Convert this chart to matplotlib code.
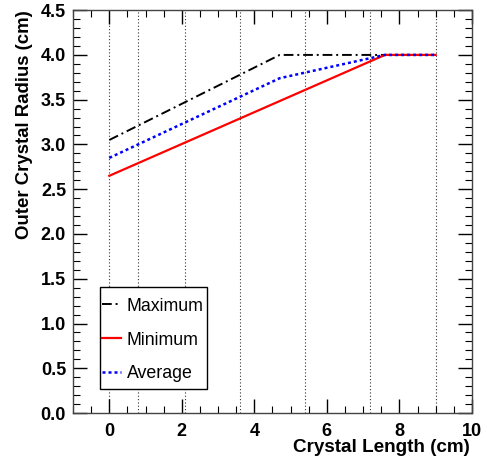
import numpy as np
import matplotlib.pyplot as plt
from matplotlib.ticker import MultipleLocator
from matplotlib.patches import Rectangle

plt.rcParams['font.family'] = ['Liberation Sans', 'DejaVu Sans']

# crystal boundaries (vertical dotted lines)
fronteras = [0.0, 0.8, 2.1, 3.6, 5.4, 7.2, 9.0]

# curvas
x_max = [0.0, 4.7, 9.0]
r_max = [3.05, 4.0, 4.0]
x_min = [0.0, 7.6, 9.0]
r_min = [2.65, 4.0, 4.0]
x_avg = [0.0, 4.7, 7.6, 9.0]
r_avg = [2.85, 3.74, 4.0, 4.0]

fig = plt.figure(figsize=(4.87, 4.62), dpi=100)
ax = fig.add_axes([0.150, 0.106, 0.819, 0.872])

for xb in fronteras:
    ax.axvline(xb, color='#333333', lw=0.8, ls=(0, (1, 2)), zorder=1)

ax.plot(x_max, r_max, color='black', lw=1.4, ls=(0, (5, 2, 1, 2)), label='Maximum', zorder=3)
ax.plot(x_min, r_min, color='red', lw=1.6, ls='-', label='Minimum', zorder=3)
ax.plot(x_avg, r_avg, color='blue', lw=1.8, ls=(0, (1.2, 1.2)), label='Average', zorder=4)

ax.set_xlim(-1, 10)
ax.set_ylim(0, 4.5)
ax.xaxis.set_major_locator(MultipleLocator(2))
ax.xaxis.set_minor_locator(MultipleLocator(0.5))
ax.yaxis.set_major_locator(MultipleLocator(0.5))
ax.yaxis.set_minor_locator(MultipleLocator(0.1))
ax.yaxis.set_major_formatter(plt.FormatStrFormatter('%.1f'))

ax.tick_params(which='both', direction='in', top=True, right=True, color='black')
ax.tick_params(which='major', length=10, width=1, labelsize=13, pad=5)
ax.tick_params(which='minor', length=5, width=0.8)
ax.tick_params(axis='x', which='major', pad=7)
for lab in ax.get_xticklabels() + ax.get_yticklabels():
    lab.set_fontweight('bold')
for s in ax.spines.values():
    s.set_color('#444444')
    s.set_linewidth(1.0)

ax.set_xlabel('Crystal Length (cm)', fontsize=13.6, fontweight='bold', ha='right', va='top')
ax.xaxis.set_label_coords(0.995, -0.064)
ax.set_ylabel('Outer Crystal Radius (cm)', fontsize=13.4, fontweight='bold', ha='right')
ax.yaxis.set_label_coords(-0.10, 1.0)

# caja de la leyenda estilo ROOT
caja = Rectangle((0.068, 0.060), 0.268, 0.253, transform=ax.transAxes,
                 facecolor='white', edgecolor='black', lw=1.0, zorder=5)
ax.add_patch(caja)
leg = ax.legend(loc='center left', bbox_to_anchor=(0.072, 0.181), borderaxespad=0,
                fontsize=12.8, frameon=False, handlelength=1.1,
                handletextpad=0.3, labelspacing=0.95, borderpad=0)
leg.set_zorder(6)

fig.savefig('out.png', dpi=100)
